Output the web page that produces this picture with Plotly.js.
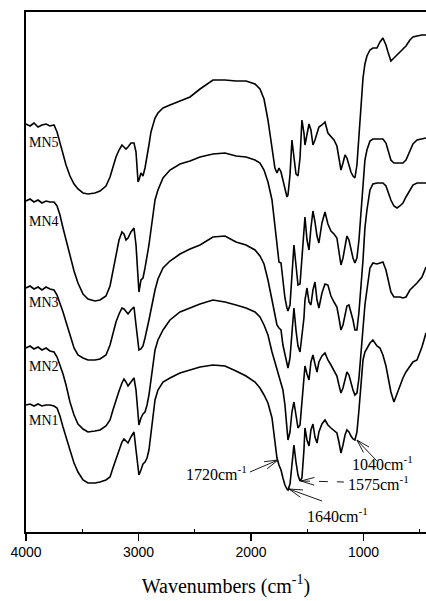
<!DOCTYPE html>
<html>
<head>
<meta charset="utf-8">
<script src="https://cdn.plot.ly/plotly-3.0.1.min.js"></script>
<style>html,body{margin:0;padding:0;background:#fff;}#chart{width:426px;height:601px;}</style>
</head>
<body>
<div id="chart"></div>
<script>
// wavenumber grid (cm-1), shared by all five spectra
const wavenumber = [4000,3964,3929,3893,3858,3822,3787,3751,3724,3698,3671,3644,3609,3573,3538,3493,3449,3387,3342,3289,3253,3227,3200,3173,3147,3129,3111,3093,3067,3040,3022,3004,2996,2978,2960,2942,2924,2907,2889,2871,2853,2827,2782,2720,2631,2542,2453,2338,2231,2133,2044,1964,1920,1884,1849,1813,1787,1769,1751,1733,1716,1698,1680,1671,1653,1636,1618,1600,1582,1564,1547,1529,1520,1502,1484,1467,1449,1431,1413,1396,1369,1342,1316,1289,1262,1236,1218,1200,1182,1164,1147,1129,1111,1093,1076,1058,1040,1022,1004,987,969,942,916,880,853,827,800,782,756,729,702,676,649,622,587,560,524,480,444];

// stacked transmittance (arbitrary units, offset)
const MN5 = [408,406,409,405,407,408,406,407,
400,389,377,367,356,348,343,339,338,339,
341,346,355,366,375,382,387,385,383,385,
389,389,380,350,352,359,356,364,374,387,
400,408,414,419,424,427,431,435,443,452,
452,451,451,448,443,433,412,382,364,359,
364,360,352,342,335,337,357,392,374,358,
356,374,412,399,387,396,408,402,387,392,
400,405,407,410,399,395,392,386,372,362,
369,377,374,367,360,356,354,367,397,432,
454,468,476,482,484,484,490,494,487,480,
471,474,477,480,482,486,492,495,496,497,
497];
const MN4 = [331,333,330,332,329,331,330,330,
326,317,304,292,275,261,249,238,233,231,
232,236,246,260,278,292,300,298,292,294,
300,304,287,257,240,252,254,264,275,287,
302,320,332,342,354,362,368,371,375,378,
379,376,375,372,369,362,350,332,307,287,
270,269,252,234,224,221,227,252,287,267,
247,248,277,307,315,292,282,304,321,310,
296,289,309,320,308,301,298,294,282,267,
274,285,296,292,282,274,269,274,292,320,
347,372,382,391,393,393,393,393,389,382,
372,369,369,369,369,372,382,388,392,393,
394];
const MN3 = [244,246,243,245,242,245,243,242,
237,229,220,210,198,184,177,174,172,172,
173,177,187,199,210,218,224,223,220,218,
222,225,207,187,182,183,186,194,202,212,
222,234,242,253,264,271,278,283,287,295,
296,290,287,282,276,268,252,232,217,207,
204,202,187,177,166,164,174,200,224,202,
186,180,197,214,232,244,230,227,242,250,
232,224,239,248,247,236,230,225,214,202,
207,219,226,227,220,212,202,202,220,242,
272,304,322,342,348,349,349,349,346,340,
332,326,324,326,329,335,342,347,349,349,
349];
const MN2 = [184,186,183,185,182,184,181,180,
175,167,158,147,130,117,108,103,100,101,
102,106,112,122,132,141,149,153,150,146,
150,154,142,122,107,114,118,120,127,137,
152,167,182,192,202,212,220,224,228,232,
230,227,224,220,215,207,197,180,170,164,
156,148,142,127,102,92,100,120,130,114,
104,107,127,154,166,158,152,170,177,168,
160,170,176,179,172,167,162,156,147,139,
144,154,160,157,149,142,137,139,154,182,
202,227,242,264,269,268,269,270,262,252,
240,235,235,235,234,235,242,245,249,255,
265];
const MN1 = [127,128,126,128,126,127,127,126,
124,116,105,94,82,69,60,52,49,49,
50,52,55,64,73,83,90,93,91,89,
95,100,82,62,57,62,68,70,74,82,
100,117,132,142,150,154,159,162,165,167,
166,161,156,150,144,137,129,114,92,74,
67,62,54,47,43,42,48,67,87,70,
57,51,54,82,104,92,86,102,108,95,
89,100,108,112,107,104,101,99,90,79,
87,97,102,100,96,93,92,100,122,147,
172,180,184,189,192,186,184,177,166,155,
140,130,138,147,154,160,166,170,172,185,
199];

const seriesNames = ['MN5','MN4','MN3','MN2','MN1'];
const seriesData = [MN5, MN4, MN3, MN2, MN1];
const labelY = [390, 311, 230, 166, 112];   // label vertical positions (same units)

const majorTicks = [4000, 3000, 2000, 1000];
const minorTicks = [3500, 2500, 1500, 500];

// peak annotations: label, tip wavenumber, tip value, tail offset px (dx, dy down), text anchor, dashed
const peakLabels = ['1720cm<sup>-1</sup>','1575cm<sup>-1</sup>','1640cm<sup>-1</sup>','1040cm<sup>-1</sup>'];
const peakTipX = [1760, 1556, 1662, 1058];
const peakTipY = [72, 51, 43, 92];
const peakTail = [[-28,12],[43,1],[33,12],[20,21]];
const peakTextX = [2018, 1156, 1520, 1120];
const peakTextY = [59, 49, 17, 69];
const peakTextAnchor = ['right','left','left','left'];
const peakDashed = [false, true, false, false];

const traces = seriesData.map((ys, i) => ({
  type: 'scatter', mode: 'lines', x: wavenumber, y: ys, name: seriesNames[i],
  line: {color: '#000', width: 1.6}, hoverinfo: 'skip'
}));

const serif = 'Liberation Serif, Times New Roman, serif';
const annotations = [];
const shapes = [];
seriesNames.forEach((n, i) => {
  annotations.push({x: 3990, y: labelY[i], xref: 'x', yref: 'y', text: n, showarrow: false,
    xanchor: 'left', yanchor: 'middle', font: {family: serif, size: 14, color: '#000'}});
});
function seg(xa, ya, dx0, dy0, dx1, dy1, dash) {
  shapes.push({type: 'line', xref: 'x', yref: 'y', xsizemode: 'pixel', ysizemode: 'pixel',
    xanchor: xa, yanchor: ya, x0: dx0, x1: dx1, y0: -dy0, y1: -dy1,
    line: {color: '#000', width: 0.9, dash: dash || 'solid'}});
}
peakLabels.forEach((t, i) => {
  annotations.push({x: peakTextX[i], y: peakTextY[i], xref: 'x', yref: 'y', text: t, showarrow: false,
    xanchor: peakTextAnchor[i], yanchor: 'middle', font: {family: serif, size: 16, color: '#000'}});
  const dx = peakTail[i][0], dy = peakTail[i][1];
  seg(peakTipX[i], peakTipY[i], 0, 0, dx, dy, peakDashed[i] ? 'dash' : 'solid');
  const th = Math.atan2(dy, dx), L = 14;
  [-0.28, 0.28].forEach(d => {
    seg(peakTipX[i], peakTipY[i], 0, 0, L * Math.cos(th + d), L * Math.sin(th + d));
  });
});

const layout = {
  width: 426, height: 601,
  margin: {l: 26, r: 0, t: 12, b: 69, pad: 0},
  paper_bgcolor: '#fff', plot_bgcolor: '#fff',
  showlegend: false,
  xaxis: {
    range: [4000, 444], showline: true, linecolor: '#000', linewidth: 1.6, mirror: true,
    ticks: 'outside', ticklen: 7, tickwidth: 1.5, tickcolor: '#000',
    tickmode: 'array', tickvals: majorTicks, ticktext: majorTicks.map(String),
    tickfont: {family: 'Liberation Sans, Arial, sans-serif', size: 14, color: '#000'},
    showgrid: false, zeroline: false,
    minor: {tickmode: 'array', tickvals: minorTicks, ticks: 'inside', ticklen: 3, tickwidth: 1.2, tickcolor: '#000', showgrid: false},
    title: {text: 'Wavenumbers (cm<sup>-1</sup>)', font: {family: serif, size: 20, color: '#000'}, standoff: 19}
  },
  yaxis: {
    range: [0, 520], showline: true, linecolor: '#000', linewidth: 1.6,
    showticklabels: false, ticks: '', showgrid: false, zeroline: false
  },
  annotations: annotations,
  shapes: shapes
};
Plotly.newPlot('chart', traces, layout, {displayModeBar: false, staticPlot: true});
</script>
</body>
</html>
